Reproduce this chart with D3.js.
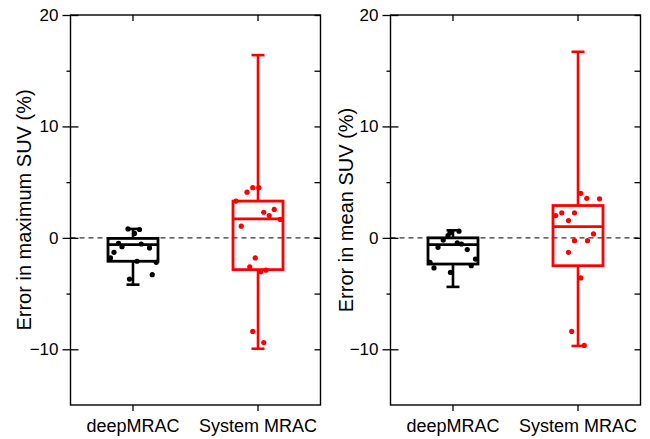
<!DOCTYPE html>
<html>
<head>
<meta charset="utf-8">
<script src="https://cdn.jsdelivr.net/npm/d3@7"></script>
<style>
body { margin: 0; background: #fff; }
text { font-family: "Liberation Sans", Arial, sans-serif; }
</style>
</head>
<body>
<script>
// categories and axis
var categories = ["deepMRAC", "System MRAC"];
var majorTicks = [-10, 0, 10, 20];
var minorTicks = [-5, 5, 15];
var panelTitles = ["Error in maximum SUV (%)", "Error in mean SUV (%)"];

// box stats: [whisker low, q1, median, q3, whisker high]
var maxDeepBox   = [-4.2, -2.1, -0.6, -0.05, 0.8];
var maxSystemBox = [-9.95, -2.85, 1.7, 3.3, 16.4];
var meanDeepBox   = [-4.4, -2.35, -0.6, 0, 0.68];
var meanSystemBox = [-9.7, -2.5, 1.0, 2.9, 16.7];

// individual cases (value) and their horizontal jitter (fraction of box half width)
var maxDeepValues = [0.8, 0.75, 0.4, -0.5, -0.8, -0.55, -0.9, -1.3, -1.8, -2.1, -2.2, -3.3, -3.7];
var maxDeepJitter = [-0.2, 0.26, 0.06, -0.58, -0.44, 0.33, 0.66, -0.76, -0.9, 0.16, 0.93, 0.77, -0.14];
var maxSystemValues = [4.1, 4.5, 4.5, 3.3, 2.3, 2.0, 2.55, 1.65, 1.05, -1.8, -2.6, -3.05, -2.9, -8.4, -9.4];
var maxSystemJitter = [-0.44, -0.21, 0.03, -0.88, 0.23, 0.45, 0.65, 0.89, -0.67, -0.11, -0.33, 0.11, 0.32, -0.21, 0.23];

var meanDeepValues = [0.6, 0.45, 0.2, -0.2, -0.45, -0.55, -0.85, -1.05, -1.9, -2.2, -2.7, -2.5, -3.1];
var meanDeepJitter = [0.24, -0.12, -0.2, -0.39, 0.17, 0.34, -0.6, 0.57, 0.9, -0.92, -0.76, 0.73, -0.1];
var meanSystemValues = [4.0, 3.55, 3.5, 2.0, 2.25, 2.25, 1.55, 0.35, -0.25, -0.25, -1.3, -3.6, -8.4, -9.65];
var meanSystemJitter = [0.11, 0.35, 0.86, -0.89, -0.65, -0.14, -0.38, 0.62, 0.38, -0.14, -0.38, 0.11, -0.25, 0.25];

var colors = ["#000000", "#ff0000"];

var panels = [
  { left: 70.5, title: panelTitles[0], titleX: 30.5,
    boxes: [maxDeepBox, maxSystemBox],
    values: [maxDeepValues, maxSystemValues],
    jitter: [maxDeepJitter, maxSystemJitter] },
  { left: 390.5, title: panelTitles[1], titleX: 352.5,
    boxes: [meanDeepBox, meanSystemBox],
    values: [meanDeepValues, meanSystemValues],
    jitter: [meanDeepJitter, meanSystemJitter] }
];

var W = 650, H = 439;
var plotTop = 15, plotBottom = 405, pw = 250;

var svg = d3.select("body").append("svg")
  .attr("width", W).attr("height", H);

var y = d3.scaleLinear().domain([-15, 20]).range([plotBottom, plotTop]);

panels.forEach(function(p) {
  var g = svg.append("g").attr("transform", "translate(" + p.left + ",0)");
  var x = d3.scaleBand().domain(categories).range([0, pw]).padding(0);
  var half = 25;

  // zero line
  g.append("line")
    .attr("x1", 0).attr("x2", pw)
    .attr("y1", y(0)).attr("y2", y(0))
    .attr("stroke", "#333").attr("stroke-width", 1.2)
    .attr("stroke-dasharray", "5,4");

  // left axis major (crossing ticks)
  var ax = g.append("g")
    .call(d3.axisLeft(y).tickValues(majorTicks).tickSize(8).tickSizeOuter(0).tickPadding(4));
  ax.selectAll(".tick line").attr("x1", 8);
  ax.select(".domain").remove();
  ax.selectAll("text").style("font-size", "17px").attr("fill", "#000");
  ax.selectAll("line").attr("stroke-width", 1.3);

  var axm = g.append("g")
    .call(d3.axisLeft(y).tickValues(minorTicks).tickSize(4).tickFormat(""));
  axm.select(".domain").remove();
  axm.selectAll("line").attr("stroke-width", 1.3);

  // right axis mirror (inward)
  var ar = g.append("g").attr("transform", "translate(" + pw + ",0)")
    .call(d3.axisRight(y).tickValues(majorTicks.concat(minorTicks)).tickSize(-6).tickFormat(""));
  ar.select(".domain").remove();
  ar.selectAll("line").attr("stroke-width", 1.3);

  // bottom axis
  var ab = g.append("g").attr("transform", "translate(0," + plotBottom + ")")
    .call(d3.axisBottom(x).tickSize(6).tickSizeOuter(0).tickPadding(8));
  ab.select(".domain").remove();
  ab.selectAll("text").style("font-size", "18px").attr("fill", "#000");
  ab.selectAll("line").attr("stroke-width", 1.3);

  // top axis mirror
  var at = g.append("g").attr("transform", "translate(0," + plotTop + ")")
    .call(d3.axisTop(x).tickSize(-6).tickFormat(""));
  at.select(".domain").remove();
  at.selectAll("line").attr("stroke-width", 1.3);

  // frame
  g.append("rect")
    .attr("x", 0).attr("y", plotTop)
    .attr("width", pw).attr("height", plotBottom - plotTop)
    .attr("fill", "none").attr("stroke", "#000").attr("stroke-width", 1.4);

  // y title
  svg.append("text")
    .attr("transform", "translate(" + p.titleX + "," + ((plotTop + plotBottom) / 2) + ") rotate(-90)")
    .attr("text-anchor", "middle")
    .style("font-size", "20px")
    .text(p.title);

  // boxes
  categories.forEach(function(c, i) {
    var b = p.boxes[i];
    var cx = x(c) + x.bandwidth() / 2;
    var col = colors[i];
    var bg = g.append("g").attr("stroke", col).attr("fill", "none").attr("stroke-width", 2.6);

    bg.append("line").attr("x1", cx).attr("x2", cx).attr("y1", y(b[3])).attr("y2", y(b[4]));
    bg.append("line").attr("x1", cx).attr("x2", cx).attr("y1", y(b[1])).attr("y2", y(b[0]));
    bg.append("line").attr("x1", cx - 6.5).attr("x2", cx + 6.5).attr("y1", y(b[4])).attr("y2", y(b[4]));
    bg.append("line").attr("x1", cx - 6.5).attr("x2", cx + 6.5).attr("y1", y(b[0])).attr("y2", y(b[0]));
    bg.append("rect")
      .attr("x", cx - half).attr("width", half * 2)
      .attr("y", y(b[3])).attr("height", y(b[1]) - y(b[3]))
      .attr("stroke-width", 2.8);
    bg.append("line").attr("x1", cx - half).attr("x2", cx + half)
      .attr("y1", y(b[2])).attr("y2", y(b[2])).attr("stroke-width", 2.8);

    g.selectAll(".pt" + i)
      .data(p.values[i])
      .enter().append("circle")
      .attr("cx", function(d, k) { return cx + p.jitter[i][k] * half; })
      .attr("cy", function(d) { return y(d); })
      .attr("r", 2.6)
      .attr("fill", col);
  });
});
</script>
</body>
</html>
